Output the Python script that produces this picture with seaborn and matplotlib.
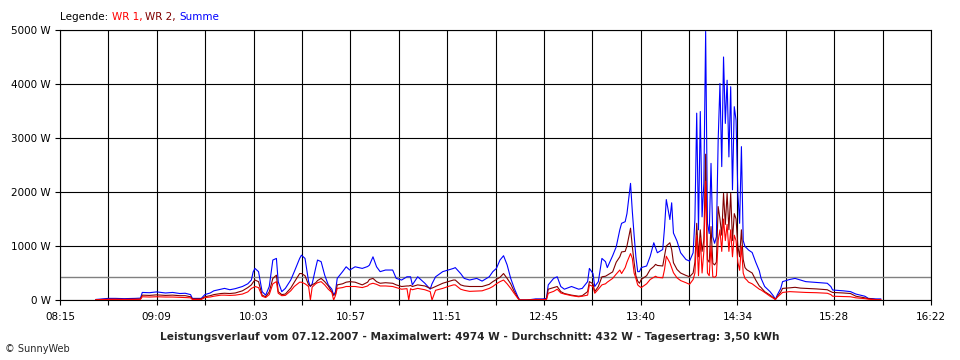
import numpy as np
import pandas as pd
import matplotlib
matplotlib.use("Agg")
import matplotlib.pyplot as plt
import seaborn as sns

# ---- data (minutes since midnight, power in W) ----
times = [515, 517, 522, 526, 531, 537, 540, 541, 545, 549, 554, 558, 562, 565, 568, 569, 572, 574,
         576, 579, 581, 585, 587, 590, 593, 597, 600, 602, 603, 604, 606, 608, 610, 612, 614, 616,
         617, 619, 621, 624, 626, 629, 630, 632, 634, 635, 636, 638, 639, 641, 643, 645, 647, 648,
         649, 650, 653, 655, 657, 660, 664, 667, 668, 670, 672, 674, 677, 681, 683, 686, 689, 690,
         691, 692, 695, 699, 702, 703, 705, 709, 712, 715, 716, 719, 721, 724, 728, 731, 735, 737,
         739, 741, 743, 745, 747, 749, 751, 752, 756, 761, 765, 767, 768, 771, 773, 775, 777, 781,
         785, 787, 790, 791, 793, 794, 796, 798, 800, 801, 804, 806, 808, 809, 811, 812, 814, 815,
         816, 817, 818, 819, 820, 823, 825, 827, 828, 829, 832, 833, 834, 836, 837, 838, 840, 842,
         845, 847, 849, 850, 851, 852, 853, 854, 855, 856, 857, 858, 859, 860, 861, 862, 863, 864,
         865, 866, 867, 868, 869, 870, 871, 872, 873, 874, 875, 876, 877, 878, 879, 880, 882, 884,
         886, 887, 889, 892, 894, 895, 896, 898, 899, 903, 906, 909, 912, 918, 924, 926, 927, 933,
         937, 940, 945, 947, 951, 954]

summe = [10, 15, 30, 30, 25, 30, 35, 140, 135, 150, 130, 140, 120, 125, 100, 30, 30, 30,
         100, 130, 170, 200, 215, 190, 210, 250, 300, 370, 520, 585, 525, 155, 90, 250, 740, 770,
         340, 155, 215, 370, 525, 770, 830, 770, 340, 250, 300, 600, 740, 710, 460, 280, 200, 90,
         150, 400, 525, 615, 555, 615, 585, 620, 645, 800, 615, 525, 555, 555, 400, 370, 430, 430,
         430, 280, 430, 310, 200, 300, 430, 525, 555, 585, 600, 490, 400, 370, 400, 350, 430, 525,
         585, 740, 820, 650, 400, 215, 60, 0, 0, 20, 20, 30, 280, 400, 430, 250, 200, 250,
         200, 215, 340, 585, 490, 250, 340, 770, 710, 600, 820, 985, 1300, 1420, 1450, 1600, 2160, 1640,
         1200, 800, 525, 525, 600, 630, 810, 1060, 965, 875, 935, 1335, 1860, 1490, 1800, 1240, 1090, 875,
         750, 720, 875, 1500, 3460, 1300, 3490, 1540, 2160, 4974, 1420, 1230, 2530, 1170, 1050, 1170, 2960, 4010,
         2470, 4500, 3270, 4070, 2650, 3950, 2040, 3580, 3330, 1975, 1420, 2840, 1100, 990, 960, 925, 880, 700,
         540, 400, 250, 155, 70, 10, 90, 215, 340, 380, 400, 370, 340, 325, 310, 250, 185, 170,
         155, 110, 70, 30, 20, 20]

wr2 = [5, 8, 15, 15, 12, 15, 18, 90, 85, 95, 85, 90, 80, 80, 60, 20, 20, 20,
       60, 80, 100, 120, 125, 120, 130, 170, 230, 280, 330, 370, 340, 90, 60, 150, 400, 460,
       155, 100, 110, 220, 330, 490, 490, 450, 280, 260, 280, 320, 360, 400, 340, 260, 150, 90,
       100, 280, 300, 330, 340, 330, 280, 330, 380, 400, 340, 310, 320, 310, 280, 250, 260, 260,
       270, 250, 280, 260, 215, 220, 250, 310, 340, 370, 370, 280, 260, 250, 250, 250, 290, 340,
       380, 420, 490, 400, 300, 155, 40, 0, 0, 10, 10, 15, 200, 230, 250, 155, 120, 90,
       70, 80, 155, 340, 300, 155, 250, 430, 440, 460, 520, 700, 800, 890, 900, 1000, 1330, 990,
       700, 450, 350, 310, 380, 450, 565, 620, 660, 640, 630, 810, 1000, 1060, 935, 690, 565, 500,
       455, 430, 500, 700, 1420, 800, 1300, 900, 1110, 2700, 750, 700, 1360, 680, 650, 700, 1730, 1500,
       1200, 1975, 1400, 1975, 1300, 1975, 1100, 1600, 1500, 1000, 800, 1300, 750, 600, 560, 540, 500, 370,
       260, 230, 155, 90, 40, 10, 60, 150, 215, 225, 235, 220, 215, 205, 190, 155, 140, 130,
       120, 70, 40, 25, 10, 5]

wr1 = [5, 6, 10, 12, 10, 12, 12, 60, 55, 60, 55, 55, 50, 45, 40, 10, 10, 10,
       45, 55, 70, 90, 90, 85, 90, 110, 150, 215, 230, 250, 230, 70, 45, 100, 300, 340,
       125, 80, 85, 170, 250, 330, 330, 300, 250, 0, 240, 300, 320, 340, 280, 200, 140, 0,
       80, 215, 230, 250, 250, 250, 230, 260, 290, 310, 290, 260, 260, 250, 230, 200, 210, 0,
       210, 190, 215, 190, 155, 0, 180, 215, 250, 280, 280, 200, 180, 160, 165, 170, 215, 250,
       300, 340, 370, 300, 215, 120, 30, 0, 0, 5, 5, 10, 125, 160, 200, 130, 110, 80,
       60, 70, 90, 280, 250, 125, 200, 280, 300, 330, 400, 480, 555, 490, 600, 700, 860, 770,
       500, 400, 280, 250, 230, 300, 380, 420, 440, 420, 410, 565, 810, 690, 600, 505, 410, 360,
       320, 290, 380, 500, 1200, 450, 1150, 500, 900, 2200, 500, 450, 1000, 430, 420, 450, 1100, 1300,
       900, 1500, 1100, 1400, 900, 1300, 800, 1200, 1100, 700, 550, 1000, 500, 400, 370, 330, 300, 250,
       200, 185, 140, 70, 30, 10, 50, 110, 140, 155, 150, 145, 140, 135, 125, 100, 70, 65,
       60, 40, 25, 15, 5, 5]

series_names = ["Summe", "WR 2", "WR 1"]
series_colors = ["#0000ff", "#800000", "#ff0000"]
tick_labels = ["08:15", "09:09", "10:03", "10:57", "11:51", "12:45", "13:40", "14:34", "15:28", "16:22"]
y_ticks = [0, 1000, 2000, 3000, 4000, 5000]
average_w = 432
start_min, end_min = 495, 982
title = ("Leistungsverlauf vom 07.12.2007 - Maximalwert: 4974 W - Durchschnitt: 432 W"
         " - Tagesertrag: 3,50 kWh")

# ---- style ----
sns.set_style("white")
plt.rcParams["font.family"] = ["DejaVu Sans"]
plt.rcParams["font.size"] = 7.5

n = len(times)
df = pd.DataFrame({
    "t": times * 3,
    "W": summe + wr2 + wr1,
    "Serie": ["Summe"] * n + ["WR 2"] * n + ["WR 1"] * n,
})

fig = plt.figure(figsize=(9.6, 3.6), dpi=100)
fig.patch.set_facecolor("white")
ax = fig.add_axes([60 / 960, 60 / 360, 871 / 960, 270 / 360])

sns.lineplot(data=df, x="t", y="W", hue="Serie", hue_order=series_names,
             palette=dict(zip(series_names, series_colors)), estimator=None,
             linewidth=0.8, legend=False, ax=ax, zorder=3)

ax.axhline(average_w, color="#808080", lw=1.0, zorder=2)

ax.set_xlim(start_min, end_min)
ax.set_ylim(0, 5000)
all_x = np.linspace(start_min, end_min, 2 * len(tick_labels) - 1)
labels = []
for i in range(len(all_x)):
    labels.append(tick_labels[i // 2] if i % 2 == 0 else "")
ax.set_xticks(all_x)
ax.set_xticklabels(labels)
ax.set_yticks(y_ticks)
ax.set_yticklabels([f"{v} W" for v in y_ticks])
ax.grid(True, color="black", lw=0.8, zorder=1)
ax.set_axisbelow(True)
ax.tick_params(axis="both", direction="out", length=3.8, width=0.8, color="black",
               labelsize=7.5, labelcolor="black", bottom=True, left=True)
ax.tick_params(axis="x", pad=5)
ax.tick_params(axis="y", pad=3)
ax.set_xlabel("")
ax.set_ylabel("")
for s in ax.spines.values():
    s.set_color("black")
    s.set_linewidth(0.8)

# legend line at top
t0 = fig.text(60 / 960, 1 - 17 / 360, "Legende: ", color="black", fontsize=7.5, va="center", ha="left")
prev = t0
parts = [("WR 1, ", series_colors[2]), ("WR 2, ", series_colors[1]), ("Summe", series_colors[0])]
for txt, col in parts:
    prev = ax.annotate(txt, xy=(1, 0), xycoords=prev, va="bottom", ha="left", color=col, fontsize=7.5,
                       annotation_clip=False)

fig.text(470 / 960, 1 - 337 / 360, title, fontsize=7.6, fontweight="bold", ha="center", va="center")
fig.text(5 / 960, 1 - 349 / 360, "\u00a9 SunnyWeb", fontsize=7, ha="left", va="center")

fig.savefig("out.png", dpi=100)
